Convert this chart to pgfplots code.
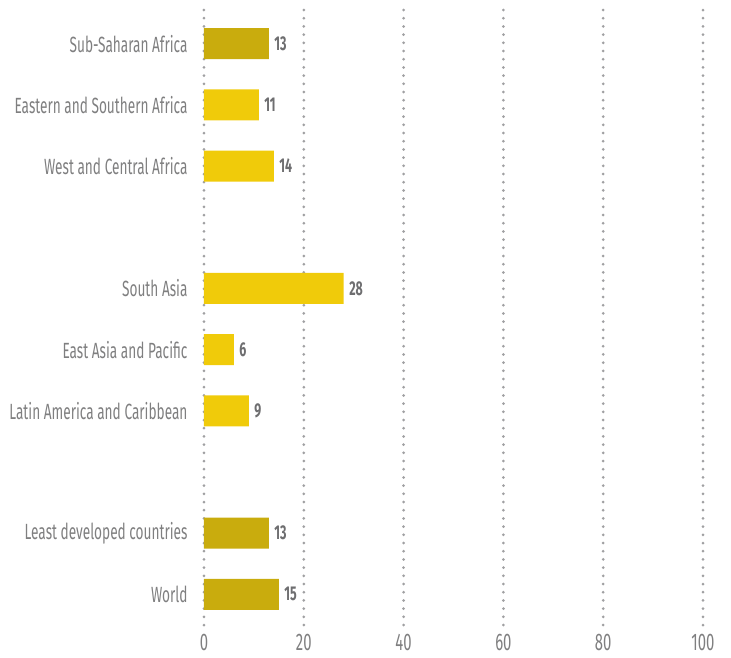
\documentclass[border=0pt]{standalone}
\usepackage{fontspec}
\setmainfont{Fira Sans}[FakeStretch=0.62]
\usepackage{pgfplots}
\pgfplotsset{compat=1.18}
\definecolor{darkgold}{HTML}{C9AC0D}
\definecolor{brightyel}{HTML}{F0CB0A}
\definecolor{lblgray}{HTML}{7F7F80}
\definecolor{valgray}{HTML}{6E6E70}
\definecolor{gridgray}{HTML}{A0A0A2}
\begin{document}
\begin{tikzpicture}
\begin{axis}[
  name=ax,
  scale only axis,
  width=499pt, height=618pt,
  xmin=0, xmax=100,
  ymin=-0.55, ymax=9.55,
  y dir=reverse,
  xbar, bar width=31pt, bar shift=0pt,
  axis line style={draw=none},
  major tick length=0pt,
  xtick={0,20,40,60,80,100},
  ytick={0,1,2,4,5,6,8,9},
  yticklabels={Sub-Saharan Africa,Eastern and Southern Africa,West and Central Africa,South Asia,East Asia and Pacific,Latin America and Caribbean,Least developed countries,World},
  xmajorgrids,
  grid style={gridgray, line width=3pt, line cap=round, dash pattern=on 0pt off 8.2pt},
  /pgf/number format/assume math mode=true,
  xticklabel style={font=\fontsize{24}{24}\selectfont, text=lblgray, inner sep=0.5pt, yshift=-5pt},
  yticklabel style={font=\fontsize{22}{22}\selectfont, text=lblgray, xshift=-13pt},
  nodes near coords,
  every node near coord/.append style={font=\fontsize{20}{20}\selectfont\bfseries, text=valgray, xshift=2pt},
  clip=false,
]
\addplot[fill=darkgold, draw=none] coordinates {(13,0) (13,8) (15,9)};
\addplot[fill=brightyel, draw=none] coordinates {(11,1) (14,2) (28,4) (6,5) (9,6)};
\end{axis}
\pgfresetboundingbox
\path[use as bounding box] ([xshift=-204pt,yshift=-30pt]ax.south west) rectangle ([xshift=28pt,yshift=10pt]ax.north east);
\end{tikzpicture}
\end{document}
